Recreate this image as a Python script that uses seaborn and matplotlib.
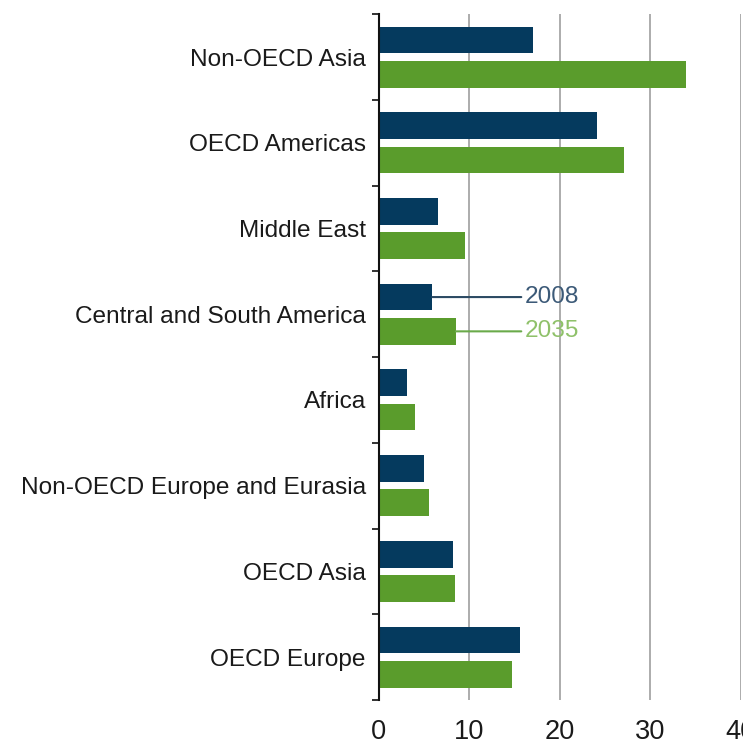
import numpy as np
import pandas as pd
import matplotlib
matplotlib.use('Agg')
from matplotlib import pyplot as plt
from matplotlib import font_manager
import seaborn as sns

# values
regions = ['Non-OECD Asia', 'OECD Americas', 'Middle East', 'Central and South America',
           'Africa', 'Non-OECD Europe and Eurasia', 'OECD Asia', 'OECD Europe']
values_2008 = [17.0, 24.1, 6.5, 5.9, 3.1, 5.0, 8.2, 15.6]
values_2035 = [34.0, 27.1, 9.5, 8.5, 4.0, 5.5, 8.4, 14.7]
years = ['2008', '2035']
bar_colors = ['#053a5e', '#5a9c2c']
line_colors = ['#2c4a63', '#6aaa4a']
text_colors = ['#3c5a78', '#8fc16a']
xticks = [0, 10, 20, 30, 40]

df = pd.DataFrame({
    'Region': regions * 2,
    'Value': values_2008 + values_2035,
    'Year': [years[0]] * len(regions) + [years[1]] * len(regions),
})

sns.set_style('white')
# narrow font if we have it, the original text looks condensed
installed = {f.name for f in font_manager.fontManager.ttflist}
if 'Liberation Sans Narrow' in installed:
    plt.rcParams['font.family'] = ['Liberation Sans Narrow', 'DejaVu Sans']
    fsize = 21.5
else:
    plt.rcParams['font.family'] = ['Liberation Sans', 'DejaVu Sans']
    fsize = 17.6

fig = plt.figure(figsize=(7.43, 7.47), dpi=100)
ax = fig.add_axes([0.510, 0.063, 0.487, 0.918])

sns.barplot(data=df, x='Value', y='Region', hue='Year', order=regions, hue_order=years,
            palette=bar_colors, saturation=1, width=0.8, gap=0.22, linewidth=0,
            legend=False, ax=ax)

ax.set_xlim(0, 40)
ax.set_ylim(len(regions) - 0.5, -0.5)
ax.set_xticks(xticks)
ax.set_yticks(np.arange(-0.5, len(regions), 1), minor=True)
ax.tick_params(axis='y', which='major', left=False, pad=6, labelsize=fsize, labelcolor='#1a1a1a')
ax.tick_params(axis='y', which='minor', left=True, length=5, width=1.3, direction='out',
               color='#222222')
ax.tick_params(axis='x', bottom=False, length=0, pad=14, labelsize=fsize + 2, labelcolor='#1a1a1a')
ax.set_xlabel('')
ax.set_ylabel('')

# vertical grid only
ax.grid(axis='x', color='#a6a6a6', linewidth=1.3)
ax.set_axisbelow(True)
for side in ['top', 'right', 'bottom']:
    ax.spines[side].set_visible(False)
ax.spines['left'].set_color('#111111')
ax.spines['left'].set_linewidth(1.5)

# in-chart legend, pointing at the Central and South America bars
idx = regions.index('Central and South America')
for i, year in enumerate(years):
    bar = ax.containers[i][idx]
    yc = bar.get_y() + bar.get_height() / 2
    ax.annotate(year, xy=(bar.get_width(), yc), xytext=(16.1, yc), textcoords='data',
                va='center', ha='left', fontsize=fsize, color=text_colors[i],
                arrowprops=dict(arrowstyle='-', color=line_colors[i], lw=1.5,
                                shrinkA=0, shrinkB=0))

plt.savefig('out.png', dpi=100)
